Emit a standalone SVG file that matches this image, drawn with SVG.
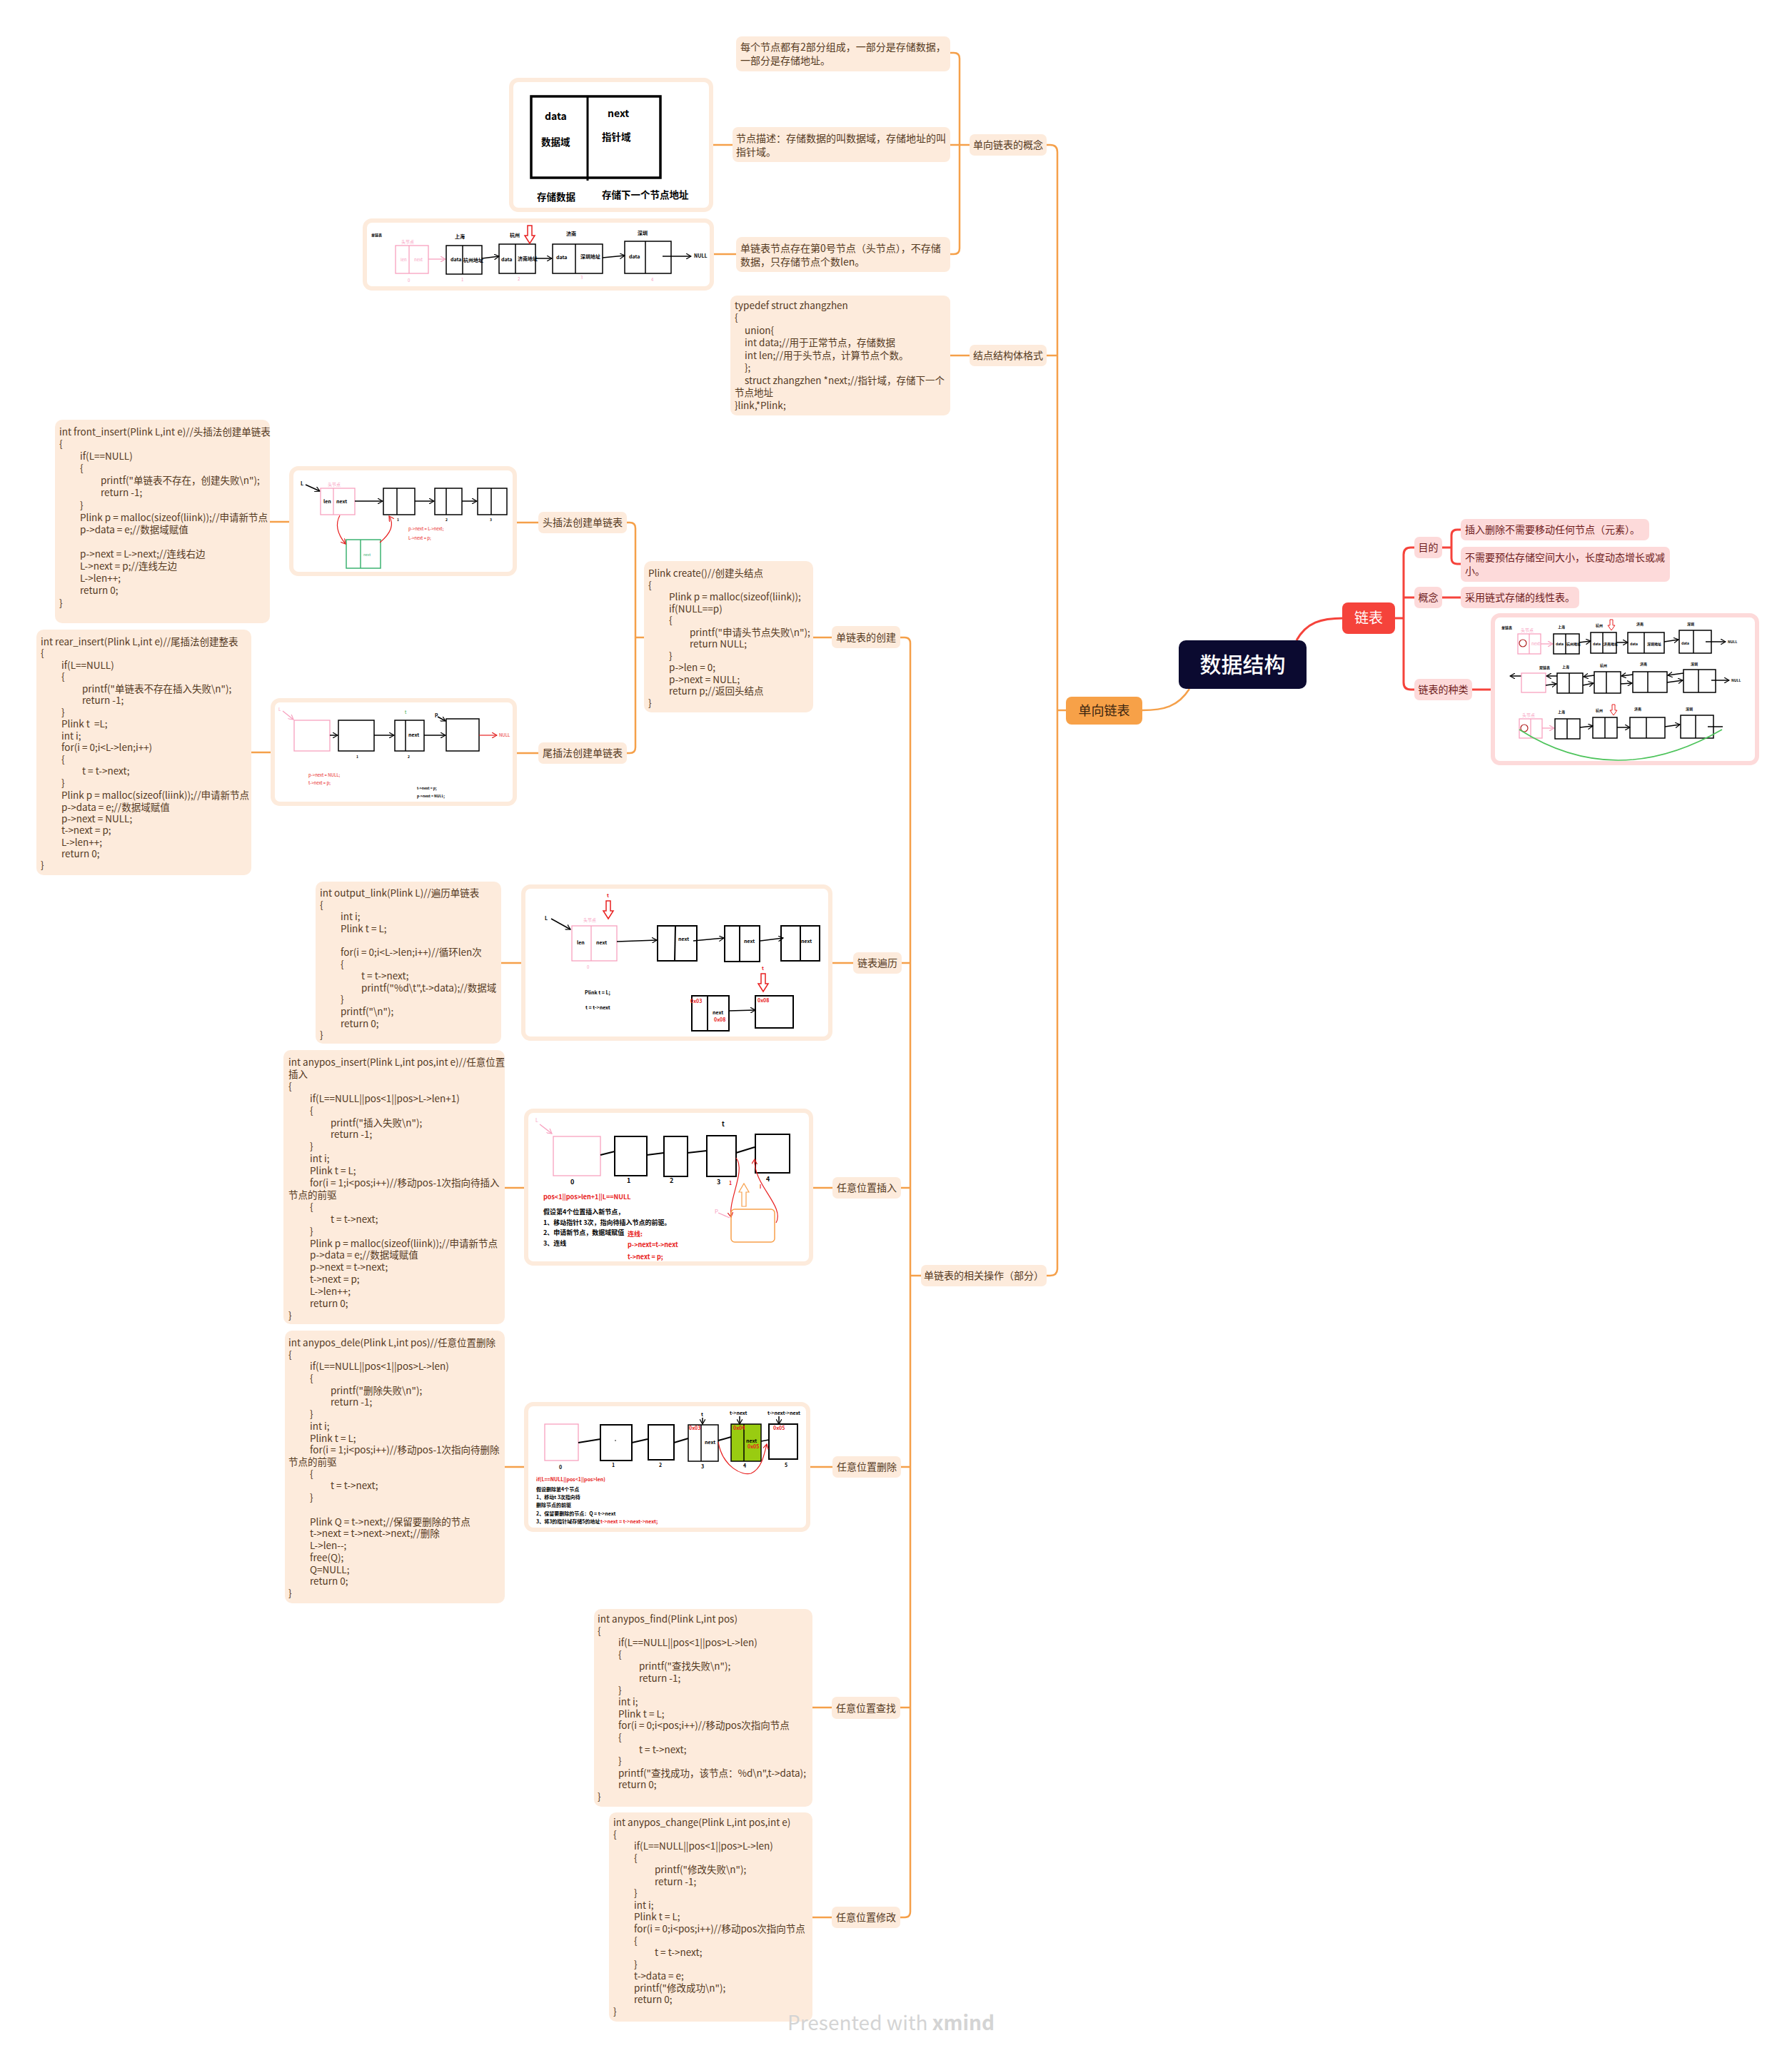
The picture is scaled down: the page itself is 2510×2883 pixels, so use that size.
<svg xmlns="http://www.w3.org/2000/svg" width="2510" height="2883" viewBox="0 0 2510 2883">
<defs>
<marker id="ab" markerWidth="8" markerHeight="8" refX="7" refY="4" orient="auto" markerUnits="userSpaceOnUse"><path d="M0,0 L7,4 L0,8" fill="none" stroke="#000" stroke-width="1.2"/></marker>
<marker id="ap" markerWidth="8" markerHeight="8" refX="7" refY="4" orient="auto" markerUnits="userSpaceOnUse"><path d="M0,0 L7,4 L0,8" fill="none" stroke="#f7a1bf" stroke-width="1.2"/></marker>
<marker id="ar" markerWidth="8" markerHeight="8" refX="7" refY="4" orient="auto" markerUnits="userSpaceOnUse"><path d="M0,0 L7,4 L0,8" fill="none" stroke="#e02020" stroke-width="1.2"/></marker>
<path id="dn" d="M-3,0 h6 v14 h4 l-7,11 l-7,-11 h4 z" fill="none" stroke="#e82020" stroke-width="1.5"/>
<path id="dns" d="M-2,0 h4 v8 h3 l-5,7 l-5,-7 h3 z" fill="none" stroke="#e82020" stroke-width="1"/>
</defs>
<style>
text{font-family:'Noto Sans CJK SC','Noto Sans',sans-serif;white-space:pre}
.t{font-size:14px;fill:#553a1f}
g[id^=code] .t, #n-struct .t{font-size:13.5px}
.tr{font-size:14px;fill:#6e1c1c}
.bo{fill:#FDEBDC}
.br{fill:#FDDADA}
.co{fill:none;stroke:#F5A04A;stroke-width:2.5}
.cr{fill:none;stroke:#F5433B;stroke-width:3}
.fo{fill:#fff;stroke:#FDEBDC;stroke-width:6}
.fr{fill:#fff;stroke:#FDDADA;stroke-width:6}
.k{fill:none;stroke:#000;stroke-width:1.5}
.k2{fill:none;stroke:#000;stroke-width:2}
.kp{fill:none;stroke:#f7a1bf;stroke-width:1.3}
.kr{fill:none;stroke:#e82020;stroke-width:1.2}
.s{font-size:7px;fill:#000;font-weight:bold}
.s5{font-size:5px;fill:#000;font-weight:bold}
.sp{font-size:6px;fill:#f7a1bf}
.sr{font-size:7px;fill:#e82020;font-weight:bold}
.m{font-size:9px;fill:#000;font-weight:bold}
.mr{font-size:9px;fill:#e82020;font-weight:bold}
</style>
<rect width="2510" height="2883" fill="#fff"/>

<!-- connectors -->
<g id="connectors">
<path class="co" d="M1666,965 C1650,990 1630,995 1600,995"/>
<path class="cr" d="M1816,897 C1830,872 1850,866 1882,866"/>
<path class="co" d="M1493,995 H1481"/>
<path class="co" d="M1466,203 H1471 Q1481,203 1481,213 V1777 Q1481,1787 1471,1787 H1466"/>
<path class="co" d="M1466,498 H1481"/>
<path class="co" d="M1331,74 H1336 Q1344,74 1344,82 V348 Q1344,356 1336,356 H1331"/>
<path class="co" d="M1331,203 H1358"/>
<path class="co" d="M1026,203 H999"/>
<path class="co" d="M1031,356 H1000"/>
<path class="co" d="M1358,498 H1331"/>
<path class="co" d="M1290,1787 H1275"/>
<path class="co" d="M1261,893 H1267 Q1275,893 1275,901 V2678 Q1275,2686 1267,2686 H1261"/>
<path class="co" d="M1263,1349 H1275 M1262,1664 H1275 M1262,2055 H1275 M1261,2392 H1275"/>
<path class="co" d="M1165,893 H1139"/>
<path class="co" d="M902,893 H890"/>
<path class="co" d="M878,732 H882 Q890,732 890,740 V1047 Q890,1055 882,1055 H878"/>
<path class="co" d="M754,732 H724 M405,731 H378"/>
<path class="co" d="M754,1055 H724 M379,1054 H352"/>
<path class="co" d="M1195,1349 H1166 M730,1349 H702"/>
<path class="co" d="M1166,1664 H1139 M734,1664 H707"/>
<path class="co" d="M1166,2055 H1135 M734,2055 H707"/>
<path class="co" d="M1165,2392 H1138"/>
<path class="co" d="M1165,2686 H1138"/>
<path class="cr" d="M1954,866 H1966"/>
<path class="cr" d="M1981,767 H1976 Q1966,767 1966,777 V956 Q1966,966 1976,966 H1981"/>
<path class="cr" d="M1966,837 H1981"/>
<path class="cr" d="M2020,767 H2033"/>
<path class="cr" d="M2047,742 H2041 Q2033,742 2033,750 V782 Q2033,790 2041,790 H2047"/>
<path class="cr" d="M2020,837 H2047"/>
<path class="cr" d="M2062,966 H2089"/>
</g>

<!-- root -->
<g id="root">
<rect x="1651" y="897" width="179" height="68" rx="10" fill="#0b0a30"/>
<text x="1740.5" y="942" font-size="30" fill="#fff" text-anchor="middle" font-weight="500">数据结构</text>
</g>

<!-- red branch -->
<g id="n-lianbiao"><rect x="1880" y="844" width="74" height="44" rx="8" fill="#F5433B"/><text x="1917" y="873" font-size="20" fill="#fff" text-anchor="middle">链表</text></g>
<g id="n-mudi"><rect class="br" x="1981" y="752" width="39" height="30" rx="7"/><text class="tr" x="2000.5" y="772" text-anchor="middle">目的</text></g>
<g id="n-gainian"><rect class="br" x="1981" y="822" width="39" height="30" rx="7"/><text class="tr" x="2000.5" y="842" text-anchor="middle">概念</text></g>
<g id="n-zhonglei"><rect class="br" x="1981" y="951" width="81" height="30" rx="7"/><text class="tr" x="2021.5" y="971" text-anchor="middle">链表的种类</text></g>
<g id="n-mudi1"><rect class="br" x="2046" y="727" width="264" height="30" rx="7"/><text class="tr" x="2052" y="747">插入删除不需要移动任何节点（元素）。</text></g>
<g id="n-mudi2"><rect class="br" x="2046" y="766" width="293" height="49" rx="7"/><text class="tr" x="2052" y="786">不需要预估存储空间大小，长度动态增长或减</text><text class="tr" x="2052" y="805">小。</text></g>
<g id="n-gainian1"><rect class="br" x="2046" y="822" width="166" height="30" rx="7"/><text class="tr" x="2052" y="842">采用链式存储的线性表。</text></g>
<g id="img-zhonglei" transform="translate(-3,0)">
<rect class="fr" x="2094" y="862" width="370" height="207" rx="10"/>
<text class="s5" x="2106" y="881">单链表</text>
<rect class="kp" x="2129" y="888" width="32" height="28"/><line class="kp" x1="2145" y1="888" x2="2145" y2="916"/>
<circle cx="2136" cy="901" r="5" fill="none" stroke="#b02020" stroke-width="1.2"/>
<text class="sp" x="2133" y="885" font-size="5">头节点</text><text class="sp" x="2148" y="904" font-size="4">next</text>
<line class="kp" x1="2161" y1="902" x2="2178" y2="902" marker-end="url(#ap)"/>
<rect class="k" x="2179" y="888" width="36" height="28"/><line class="k" x1="2196" y1="888" x2="2196" y2="916"/>
<line class="k" x1="2215" y1="900" x2="2231" y2="898" marker-end="url(#ab)"/>
<rect class="k" x="2231" y="886" width="36" height="29"/><line class="k" x1="2248" y1="886" x2="2248" y2="915"/>
<line class="k" x1="2267" y1="900" x2="2283" y2="900" marker-end="url(#ab)"/>
<rect class="k" x="2283" y="886" width="51" height="29"/><line class="k" x1="2306" y1="886" x2="2306" y2="915"/>
<line class="k" x1="2334" y1="899" x2="2354" y2="896" marker-end="url(#ab)"/>
<rect class="k" x="2355" y="883" width="45" height="32"/><line class="k" x1="2375" y1="883" x2="2375" y2="915"/>
<line class="k" x1="2392" y1="899" x2="2420" y2="899" marker-end="url(#ab)"/>
<text class="s5" x="2423" y="901">NULL</text>
<text class="s5" x="2185" y="880">上海</text><text class="s5" x="2238" y="878">杭州</text><text class="s5" x="2295" y="876">济南</text><text class="s5" x="2366" y="876">深圳</text>
<use href="#dns" x="2260" y="868"/>
<text class="s5" x="2182" y="904" font-size="4">data</text><text class="s5" x="2234" y="904" font-size="4">data</text><text class="s5" x="2286" y="904" font-size="4">data</text><text class="s5" x="2358" y="903" font-size="4">data</text>
<text class="s5" x="2197" y="904" font-size="4">杭州地址</text><text class="s5" x="2249" y="904" font-size="4">济南地址</text><text class="s5" x="2310" y="904" font-size="4">深圳地址</text>
<text class="s5" x="2159" y="937">双链表</text>
<line class="k" x1="2134" y1="947" x2="2118" y2="947" marker-end="url(#ab)"/>
<rect x="2134" y="943" width="34" height="27" fill="none" stroke="#f7a1bf" stroke-width="1.3"/>
<rect class="k" x="2184" y="943" width="36" height="28"/><line class="k" x1="2201" y1="943" x2="2201" y2="971"/>
<rect class="k" x="2236" y="941" width="37" height="30"/><line class="k" x1="2253" y1="941" x2="2253" y2="971"/>
<rect class="k" x="2290" y="941" width="48" height="29"/><line class="k" x1="2311" y1="941" x2="2311" y2="970"/>
<rect class="k" x="2361" y="938" width="45" height="32"/><line class="k" x1="2382" y1="938" x2="2382" y2="970"/>
<line class="k" x1="2184" y1="947" x2="2169" y2="947" marker-end="url(#ab)"/><line class="k" x1="2168" y1="960" x2="2183" y2="958" marker-end="url(#ab)"/>
<line class="k" x1="2236" y1="946" x2="2221" y2="948" marker-end="url(#ab)"/><line class="k" x1="2220" y1="960" x2="2235" y2="957" marker-end="url(#ab)"/>
<line class="k" x1="2290" y1="945" x2="2274" y2="947" marker-end="url(#ab)"/><line class="k" x1="2273" y1="958" x2="2289" y2="957" marker-end="url(#ab)"/>
<line class="k" x1="2361" y1="943" x2="2339" y2="946" marker-end="url(#ab)"/><line class="k" x1="2338" y1="956" x2="2360" y2="953" marker-end="url(#ab)"/>
<line class="k" x1="2400" y1="953" x2="2425" y2="953" marker-end="url(#ab)"/><text class="s5" x="2428" y="955">NULL</text>
<text class="s5" x="2191" y="936">上海</text><text class="s5" x="2244" y="934">杭州</text><text class="s5" x="2300" y="932">济南</text><text class="s5" x="2371" y="932">深圳</text>
<rect class="kp" x="2131" y="1007" width="32" height="27"/><line class="kp" x1="2147" y1="1007" x2="2147" y2="1034"/>
<circle cx="2138" cy="1020" r="5" fill="none" stroke="#b02020" stroke-width="1.2"/>
<text class="sp" x="2135" y="1004" font-size="5">头节点</text>
<line class="kp" x1="2163" y1="1020" x2="2180" y2="1020" marker-end="url(#ap)"/>
<rect class="k" x="2181" y="1007" width="35" height="28"/><line class="k" x1="2198" y1="1007" x2="2198" y2="1035"/>
<line class="k" x1="2216" y1="1019" x2="2234" y2="1017" marker-end="url(#ab)"/>
<rect class="k" x="2234" y="1005" width="34" height="29"/><line class="k" x1="2251" y1="1005" x2="2251" y2="1034"/>
<line class="k" x1="2268" y1="1019" x2="2286" y2="1019" marker-end="url(#ab)"/>
<rect class="k" x="2286" y="1005" width="49" height="29"/><line class="k" x1="2309" y1="1005" x2="2309" y2="1034"/>
<line class="k" x1="2335" y1="1018" x2="2356" y2="1015" marker-end="url(#ab)"/>
<rect class="k" x="2357" y="1002" width="46" height="32"/><line class="k" x1="2378" y1="1002" x2="2378" y2="1034"/>
<line class="k" x1="2395" y1="1018" x2="2416" y2="1018"/>
<use href="#dns" x="2263" y="987"/>
<path d="M2415,1022 Q2266,1108 2131,1022" fill="none" stroke="#4cc35a" stroke-width="1.5"/>
<text class="s5" x="2185" y="999">上海</text><text class="s5" x="2238" y="997">杭州</text><text class="s5" x="2292" y="995">济南</text><text class="s5" x="2364" y="995">深圳</text>
</g>

<!-- orange main -->
<g id="n-danxiang"><rect x="1493" y="976" width="107" height="39" rx="8" fill="#F7A148"/><text x="1546.5" y="1002" font-size="18" fill="#3b2510" text-anchor="middle">单向链表</text></g>
<g id="n-gainian-dx"><rect class="bo" x="1358" y="188" width="108" height="30" rx="7"/><text class="t" x="1412" y="208" text-anchor="middle">单向链表的概念</text></g>
<g id="n-jiegou"><rect class="bo" x="1358" y="483" width="108" height="30" rx="7"/><text class="t" x="1412" y="503" text-anchor="middle">结点结构体格式</text></g>
<g id="n-caozuo"><rect class="bo" x="1290" y="1772" width="176" height="30" rx="7"/><text class="t" x="1378" y="1792" text-anchor="middle">单链表的相关操作（部分）</text></g>

<g id="n-gn1"><rect class="bo" x="1031" y="51" width="300" height="49" rx="8"/><text class="t" x="1037" y="71">每个节点都有2部分组成，一部分是存储数据，</text><text class="t" x="1037" y="90">一部分是存储地址。</text></g>
<g id="n-gn2"><rect class="bo" x="1026" y="178" width="305" height="49" rx="8"/><text class="t" x="1031" y="199">节点描述：存储数据的叫数据域，存储地址的叫</text><text class="t" x="1031" y="218">指针域。</text></g>
<g id="n-gn3"><rect class="bo" x="1031" y="332" width="300" height="49" rx="8"/><text class="t" x="1037" y="353">单链表节点存在第0号节点（头节点），不存储</text><text class="t" x="1037" y="372">数据，只存储节点个数len。</text></g>

<g id="img-node">
<rect class="fo" x="716" y="112" width="280" height="182" rx="10"/>
<rect x="744" y="135" width="181" height="114" fill="none" stroke="#000" stroke-width="3.5"/>
<line x1="823" y1="135" x2="823" y2="253" stroke="#000" stroke-width="3"/>
<text x="763" y="168" font-size="14" font-weight="bold" fill="#000">data</text>
<text x="758" y="204" font-size="13.5" font-weight="bold" fill="#000">数据域</text>
<text x="851" y="164" font-size="14" font-weight="bold" fill="#000">next</text>
<text x="843" y="197" font-size="13.5" font-weight="bold" fill="#000">指针域</text>
<text x="752" y="281" font-size="13.5" font-weight="bold" fill="#000">存储数据</text>
<text x="843" y="278" font-size="13.5" font-weight="bold" fill="#000">存储下一个节点地址</text>
</g>

<g id="img-list">
<rect class="fo" x="511" y="309" width="486" height="95" rx="10"/>
<text class="s5" x="520" y="331">单链表</text>
<text class="sp" x="562" y="341">头节点</text>
<rect class="kp" x="554" y="344" width="46" height="39"/><line class="kp" x1="573" y1="344" x2="573" y2="383"/>
<text class="sp" x="561" y="366">len</text><text class="sp" x="580" y="366">next</text>
<text class="sp" x="571" y="395">0</text>
<line class="kp" x1="600" y1="363" x2="624" y2="363" marker-end="url(#ap)"/>
<rect class="k" x="625" y="344" width="50" height="40"/><line class="k" x1="648" y1="344" x2="648" y2="384"/>
<text class="s" x="631" y="366" font-size="6">data</text><text class="s" x="649" y="367" font-size="6">杭州地址</text>
<text class="s" x="637" y="334" font-size="6">上海</text><text class="sp" x="646" y="394" font-size="5">1</text>
<line class="k" x1="675" y1="362" x2="699" y2="359" marker-end="url(#ab)"/>
<rect class="k" x="699" y="342" width="51" height="41"/><line class="k" x1="722" y1="342" x2="722" y2="383"/>
<text class="s" x="702" y="366" font-size="6">data</text><text class="s" x="725" y="365" font-size="6">济南地址</text>
<text class="s" x="714" y="332" font-size="6">杭州</text><text class="sp" x="725" y="393" font-size="5">2</text>
<use href="#dn" x="742" y="316"/>
<line class="k" x1="750" y1="362" x2="773" y2="362" marker-end="url(#ab)"/>
<rect class="k" x="774" y="342" width="70" height="41"/><line class="k" x1="806" y1="342" x2="806" y2="383"/>
<text class="s" x="779" y="363" font-size="6">data</text><text class="s" x="813" y="362" font-size="6">深圳地址</text>
<text class="s" x="793" y="330" font-size="6">济南</text><text class="sp" x="813" y="391" font-size="5">3</text>
<line class="k" x1="844" y1="361" x2="875" y2="358" marker-end="url(#ab)"/>
<rect class="k" x="875" y="338" width="65" height="45"/><line class="k" x1="904" y1="338" x2="904" y2="383"/>
<text class="s" x="881" y="362" font-size="6">data</text>
<text class="s" x="893" y="329" font-size="6">深圳</text><text class="sp" x="912" y="394" font-size="5">4</text>
<line class="k" x1="928" y1="359" x2="968" y2="359" marker-end="url(#ab)"/>
<text class="s" x="972" y="361" font-size="6">NULL</text>
</g>

<g id="n-struct">
<rect class="bo" x="1023" y="414" width="308" height="168" rx="9"/>
<text class="t" x="1029" y="433">typedef struct zhangzhen</text>
<text class="t" x="1029" y="450">{</text>
<text class="t" x="1043" y="468">union{</text>
<text class="t" x="1043" y="485">int data;//用于正常节点，存储数据</text>
<text class="t" x="1043" y="503">int len;//用于头节点，计算节点个数。</text>
<text class="t" x="1043" y="520">};</text>
<text class="t" x="1043" y="538">struct zhangzhen *next;//指针域，存储下一个</text>
<text class="t" x="1029" y="555">节点地址</text>
<text class="t" x="1029" y="573">}link,*Plink;</text>
</g>

<!-- level 3 ops -->
<g id="n-chuangjian"><rect class="bo" x="1165" y="877" width="96" height="31" rx="7"/><text class="t" x="1213" y="898" text-anchor="middle">单链表的创建</text></g>
<g id="n-bianli"><rect class="bo" x="1195" y="1334" width="68" height="30" rx="7"/><text class="t" x="1229" y="1354" text-anchor="middle">链表遍历</text></g>
<g id="n-charu"><rect class="bo" x="1166" y="1649" width="96" height="30" rx="7"/><text class="t" x="1214" y="1669" text-anchor="middle">任意位置插入</text></g>
<g id="n-shanchu"><rect class="bo" x="1166" y="2040" width="96" height="30" rx="7"/><text class="t" x="1214" y="2060" text-anchor="middle">任意位置删除</text></g>
<g id="n-chazhao"><rect class="bo" x="1165" y="2377" width="96" height="31" rx="7"/><text class="t" x="1213" y="2398" text-anchor="middle">任意位置查找</text></g>
<g id="n-xiugai"><rect class="bo" x="1165" y="2671" width="96" height="30" rx="7"/><text class="t" x="1213" y="2691" text-anchor="middle">任意位置修改</text></g>

<g id="code-create">
<rect class="bo" x="902" y="786" width="237" height="212" rx="10"/>
<text class="t" x="908" y="808">Plink create()//创建头结点</text>
<text class="t" x="908" y="825">{</text>
<text class="t" x="937" y="841">Plink p = malloc(sizeof(liink));</text>
<text class="t" x="937" y="858">if(NULL==p)</text>
<text class="t" x="937" y="874">{</text>
<text class="t" x="966" y="891">printf("申请头节点失败\n");</text>
<text class="t" x="966" y="907">return NULL;</text>
<text class="t" x="937" y="924">}</text>
<text class="t" x="937" y="940">p-&gt;len = 0;</text>
<text class="t" x="937" y="957">p-&gt;next = NULL;</text>
<text class="t" x="937" y="973">return p;//返回头结点</text>
<text class="t" x="908" y="990">}</text>
</g>

<g id="n-touchafa"><rect class="bo" x="754" y="717" width="124" height="30" rx="7"/><text class="t" x="816" y="737" text-anchor="middle">头插法创建单链表</text></g>
<g id="n-weichafa"><rect class="bo" x="754" y="1040" width="124" height="30" rx="7"/><text class="t" x="816" y="1060" text-anchor="middle">尾插法创建单链表</text></g>

<g id="img-front">
<rect class="fo" x="408" y="656" width="313" height="148" rx="10"/>
<text class="s" x="421" y="680">L</text>
<line class="k" x1="428" y1="679" x2="448" y2="688" marker-end="url(#ab)"/>
<text class="sp" x="459" y="681">头节点</text>
<rect class="kp" x="449" y="684" width="48" height="37"/><line class="kp" x1="467" y1="684" x2="467" y2="721"/>
<text class="s" x="453" y="705" font-size="6">len</text><text class="s" x="471" y="705" font-size="6">next</text>
<line class="k" x1="497" y1="702" x2="536" y2="702" marker-end="url(#ab)"/>
<rect class="k" x="537" y="684" width="44" height="37"/><line class="k" x1="556" y1="684" x2="556" y2="721"/>
<line class="k" x1="581" y1="702" x2="608" y2="702" marker-end="url(#ab)"/>
<rect class="k" x="609" y="684" width="38" height="37"/><line class="k" x1="625" y1="684" x2="625" y2="721"/>
<line class="k" x1="647" y1="702" x2="668" y2="702" marker-end="url(#ab)"/>
<rect class="k" x="669" y="684" width="41" height="37"/><line class="k" x1="688" y1="684" x2="688" y2="721"/>
<text class="s5" x="556" y="730">1</text><text class="s5" x="624" y="730">2</text><text class="s5" x="686" y="730">3</text>
<rect x="485" y="756" width="48" height="40" fill="none" stroke="#3cb371" stroke-width="1.5"/><line x1="505" y1="756" x2="505" y2="796" stroke="#3cb371" stroke-width="1.5"/>
<text x="509" y="779" font-size="5" fill="#3cb371">next</text>
<path class="kr" d="M476,722 Q466,740 484,762" marker-end="url(#ar)"/>
<path class="kr" d="M532,760 Q556,740 545,723" marker-end="url(#ar)"/>
<text x="572" y="743" font-size="6" fill="#e82020">p-&gt;next = L-&gt;next;</text>
<text x="572" y="756" font-size="6" fill="#e82020">L-&gt;next = p;</text>
</g>

<g id="code-front">
<rect class="bo" x="77" y="588" width="301" height="285" rx="10"/>
<text class="t" x="83" y="610">int front_insert(Plink L,int e)//头插法创建单链表</text>
<text class="t" x="83" y="627">{</text>
<text class="t" x="112" y="644">if(L==NULL)</text>
<text class="t" x="112" y="661">{</text>
<text class="t" x="141" y="678">printf("单链表不存在，创建失败\n");</text>
<text class="t" x="141" y="695">return -1;</text>
<text class="t" x="112" y="713">}</text>
<text class="t" x="112" y="730">Plink p = malloc(sizeof(liink));//申请新节点</text>
<text class="t" x="112" y="747">p-&gt;data = e;//数据域赋值</text>
<text class="t" x="112" y="781">p-&gt;next = L-&gt;next;//连线右边</text>
<text class="t" x="112" y="798">L-&gt;next = p;//连线左边</text>
<text class="t" x="112" y="815">L-&gt;len++;</text>
<text class="t" x="112" y="832">return 0;</text>
<text class="t" x="83" y="850">}</text>
</g>

<g id="img-rear">
<rect class="fo" x="382" y="981" width="339" height="145" rx="10"/>
<text class="sp" x="390" y="996">L</text>
<line class="kp" x1="396" y1="996" x2="411" y2="1008" marker-end="url(#ap)"/>
<rect class="kp" x="412" y="1009" width="50" height="43"/>
<line class="k" x1="462" y1="1030" x2="473" y2="1030" marker-end="url(#ab)"/>
<rect class="k" x="474" y="1009" width="50" height="43"/>
<line class="k" x1="524" y1="1030" x2="552" y2="1030" marker-end="url(#ab)"/>
<rect class="k" x="553" y="1009" width="41" height="43"/><line class="k" x1="568" y1="1009" x2="568" y2="1052"/>
<text class="s" x="572" y="1032" font-size="5">next</text>
<text x="567" y="1000" font-size="6" fill="#2ea043">t</text>
<line class="k" x1="594" y1="1030" x2="624" y2="1030" marker-end="url(#ab)"/>
<text class="s" x="609" y="1003" font-size="6">p</text>
<line class="k" x1="613" y1="1004" x2="624" y2="1010" marker-end="url(#ab)"/>
<rect class="k" x="625" y="1007" width="46" height="45"/>
<line class="kr" x1="671" y1="1030" x2="696" y2="1030" marker-end="url(#ar)"/>
<text x="699" y="1032" font-size="6" fill="#e82020">NULL</text>
<text class="s5" x="499" y="1062">1</text><text class="s5" x="571" y="1062">2</text>
<text x="432" y="1088" font-size="6" fill="#e82020">p-&gt;next = NULL;</text>
<text x="432" y="1099" font-size="6" fill="#e82020">t-&gt;next = p;</text>
<text class="s5" x="584" y="1106" font-size="6">t-&gt;next = p;</text>
<text class="s5" x="584" y="1117" font-size="6">p-&gt;next = NULL;</text>
</g>

<g id="code-rear">
<rect class="bo" x="51" y="882" width="301" height="344" rx="10"/>
<text class="t" x="57" y="904">int rear_insert(Plink L,int e)//尾插法创建整表</text>
<text class="t" x="57" y="920">{</text>
<text class="t" x="86" y="937">if(L==NULL)</text>
<text class="t" x="86" y="953">{</text>
<text class="t" x="115" y="970">printf("单链表不存在插入失败\n");</text>
<text class="t" x="115" y="986">return -1;</text>
<text class="t" x="86" y="1003">}</text>
<text class="t" x="86" y="1019">Plink t  =L;</text>
<text class="t" x="86" y="1036">int i;</text>
<text class="t" x="86" y="1052">for(i = 0;i&lt;L-&gt;len;i++)</text>
<text class="t" x="86" y="1069">{</text>
<text class="t" x="115" y="1085">t = t-&gt;next;</text>
<text class="t" x="86" y="1102">}</text>
<text class="t" x="86" y="1119">Plink p = malloc(sizeof(liink));//申请新节点</text>
<text class="t" x="86" y="1136">p-&gt;data = e;//数据域赋值</text>
<text class="t" x="86" y="1152">p-&gt;next = NULL;</text>
<text class="t" x="86" y="1168">t-&gt;next = p;</text>
<text class="t" x="86" y="1185">L-&gt;len++;</text>
<text class="t" x="86" y="1201">return 0;</text>
<text class="t" x="57" y="1217">}</text>
</g>

<g id="img-bianli">
<rect class="fo" x="733" y="1242" width="430" height="213" rx="10"/>
<text class="s" x="763" y="1289" font-size="8">L</text>
<line x1="772" y1="1287" x2="799" y2="1302" stroke="#000" stroke-width="1.5" marker-end="url(#ab)"/>
<text class="sp" x="817" y="1291">头节点</text>
<rect class="kp" x="801" y="1297" width="63" height="49"/><line class="kp" x1="828" y1="1297" x2="828" y2="1346"/>
<text class="s" x="808" y="1323" font-size="7">len</text><text class="s" x="835" y="1323" font-size="7">next</text>
<text class="sp" x="822" y="1357">0</text>
<text class="sr" x="850" y="1257">t</text>
<use href="#dn" x="852" y="1262"/>
<line x1="864" y1="1319" x2="920" y2="1317" stroke="#000" stroke-width="1.5" marker-end="url(#ab)"/>
<rect class="k2" x="921" y="1297" width="55" height="49"/><line class="k2" x1="946" y1="1297" x2="945" y2="1346"/>
<text class="s" x="950" y="1318" font-size="7">next</text>
<line x1="971" y1="1318" x2="1014" y2="1314" stroke="#000" stroke-width="1.5" marker-end="url(#ab)"/>
<rect class="k2" x="1015" y="1297" width="49" height="50"/><line class="k2" x1="1036" y1="1297" x2="1036" y2="1347"/>
<text class="s" x="1042" y="1321" font-size="7">next</text>
<line x1="1065" y1="1318" x2="1097" y2="1314" stroke="#000" stroke-width="1.5" marker-end="url(#ab)"/>
<rect class="k2" x="1094" y="1297" width="54" height="49"/><line class="k2" x1="1121" y1="1297" x2="1121" y2="1346"/>
<text class="s" x="1122" y="1321" font-size="7">next</text>
<text class="sr" x="1067" y="1359">t</text>
<use href="#dn" x="1069" y="1364"/>
<text class="s" x="819" y="1393" font-size="6">Plink t = L;</text>
<text class="s" x="820" y="1414" font-size="8">t = t-&gt;next</text>
<rect class="k2" x="969" y="1395" width="52" height="49"/><line class="k2" x1="991" y1="1395" x2="991" y2="1444"/>
<text class="sr" x="967" y="1405" font-size="8">0x03</text>
<text class="s" x="998" y="1421" font-size="8">next</text>
<text class="sr" x="1000" y="1431" font-size="8">0x08</text>
<line x1="1021" y1="1416" x2="1058" y2="1415" stroke="#000" stroke-width="1.5" marker-end="url(#ab)"/>
<rect class="k2" x="1058" y="1395" width="53" height="45"/>
<text class="sr" x="1061" y="1404" font-size="8">0x08</text>
</g>

<g id="code-bianli">
<rect class="bo" x="442" y="1235" width="260" height="227" rx="10"/>
<text class="t" x="448" y="1256">int output_link(Plink L)//遍历单链表</text>
<text class="t" x="448" y="1273">{</text>
<text class="t" x="477" y="1289">int i;</text>
<text class="t" x="477" y="1306">Plink t = L;</text>
<text class="t" x="477" y="1339">for(i = 0;i&lt;L-&gt;len;i++)//循环len次</text>
<text class="t" x="477" y="1356">{</text>
<text class="t" x="506" y="1372">t = t-&gt;next;</text>
<text class="t" x="506" y="1389">printf("%d\t",t-&gt;data);//数据域</text>
<text class="t" x="477" y="1405">}</text>
<text class="t" x="477" y="1422">printf("\n");</text>
<text class="t" x="477" y="1439">return 0;</text>
<text class="t" x="448" y="1455">}</text>
</g>

<g id="img-charu">
<rect class="fo" x="737" y="1556" width="399" height="214" rx="10"/>
<text x="750" y="1572" font-size="7" fill="#f7a1bf">L</text>
<line class="kp" x1="756" y1="1575" x2="773" y2="1588" marker-end="url(#ap)"/>
<rect class="kp" x="775" y="1592" width="66" height="55"/>
<line class="k2" x1="841" y1="1618" x2="861" y2="1613"/>
<rect class="k2" x="861" y="1592" width="45" height="55"/>
<line class="k2" x1="906" y1="1618" x2="930" y2="1615"/>
<rect class="k2" x="930" y="1592" width="33" height="56"/>
<line class="k2" x1="963" y1="1615" x2="990" y2="1612"/>
<rect class="k2" x="990" y="1591" width="41" height="57"/>
<line class="k2" x1="1031" y1="1615" x2="1057" y2="1607"/>
<rect class="k2" x="1058" y="1589" width="48" height="54"/>
<text class="m" x="799" y="1659">0</text><text class="m" x="878" y="1657">1</text><text class="m" x="938" y="1657">2</text><text class="m" x="1004" y="1659">3</text><text class="m" x="1073" y="1655">4</text>
<text class="m" x="1011" y="1578">t</text>
<path class="kr" d="M1031,1622 C1045,1640 1020,1680 1024,1705" marker-end="url(#ar)"/>
<path class="kr" d="M1087,1713 C1100,1690 1055,1660 1057,1624" marker-end="url(#ar)"/>
<text class="sr" x="1021" y="1660" font-size="8">1</text><text class="sr" x="1064" y="1665" font-size="8">I</text>
<path d="M1039,1690 v-20 h-4 l7,-12 l7,12 h-4 v20 z" fill="none" stroke="#f7a04b" stroke-width="1.2"/>
<rect x="1024" y="1694" width="61" height="46" rx="5" fill="none" stroke="#f7a04b" stroke-width="1.5"/>
<text x="1001" y="1700" font-size="8" fill="#f7a1bf">P</text>
<line class="kp" x1="1006" y1="1699" x2="1022" y2="1706"/>
<text class="mr" x="761" y="1680" font-size="8">pos&lt;1||pos&gt;len+1||L==NULL</text>
<text class="m" x="761" y="1701" font-size="7">假设第4个位置插入新节点，</text>
<text class="m" x="761" y="1716" font-size="7">1、移动指针t 3次，指向待插入节点的前驱。</text>
<text class="m" x="761" y="1730" font-size="7">2、申请新节点，数据域赋值</text>
<text class="m" x="761" y="1745" font-size="7">3、连线</text>
<text class="mr" x="879" y="1732" font-size="8">连线:</text>
<text class="mr" x="879" y="1747" font-size="7">p-&gt;next=t-&gt;next</text>
<text class="mr" x="879" y="1764" font-size="7">t-&gt;next = p;</text>
</g>

<g id="code-charu">
<rect class="bo" x="397" y="1471" width="310" height="384" rx="10"/>
<text class="t" x="404" y="1493">int anypos_insert(Plink L,int pos,int e)//任意位置</text>
<text class="t" x="404" y="1510">插入</text>
<text class="t" x="404" y="1527">{</text>
<text class="t" x="434" y="1544">if(L==NULL||pos&lt;1||pos&gt;L-&gt;len+1)</text>
<text class="t" x="434" y="1561">{</text>
<text class="t" x="463" y="1578">printf("插入失败\n");</text>
<text class="t" x="463" y="1594">return -1;</text>
<text class="t" x="434" y="1611">}</text>
<text class="t" x="434" y="1628">int i;</text>
<text class="t" x="434" y="1645">Plink t = L;</text>
<text class="t" x="434" y="1662">for(i = 1;i&lt;pos;i++)//移动pos-1次指向待插入</text>
<text class="t" x="404" y="1679">节点的前驱</text>
<text class="t" x="434" y="1696">{</text>
<text class="t" x="463" y="1713">t = t-&gt;next;</text>
<text class="t" x="434" y="1730">}</text>
<text class="t" x="434" y="1747">Plink p = malloc(sizeof(liink));//申请新节点</text>
<text class="t" x="434" y="1763">p-&gt;data = e;//数据域赋值</text>
<text class="t" x="434" y="1780">p-&gt;next = t-&gt;next;</text>
<text class="t" x="434" y="1797">t-&gt;next = p;</text>
<text class="t" x="434" y="1814">L-&gt;len++;</text>
<text class="t" x="434" y="1831">return 0;</text>
<text class="t" x="404" y="1848">}</text>
</g>

<g id="img-shanchu">
<rect class="fo" x="737" y="1967" width="395" height="176" rx="10"/>
<rect class="kp" x="763" y="1995" width="47" height="51"/>
<line class="k2" x1="810" y1="2021" x2="841" y2="2016"/>
<rect class="k2" x="841" y="1996" width="44" height="50"/>
<circle cx="862" cy="2018" r="0.8" fill="#000"/>
<line class="k2" x1="885" y1="2021" x2="907" y2="2016"/>
<rect class="k2" x="908" y="1996" width="36" height="49"/>
<line class="k2" x1="944" y1="2021" x2="964" y2="2015"/>
<rect class="k" x="964" y="1996" width="42" height="51"/><line class="k" x1="982" y1="1996" x2="982" y2="2047"/>
<text class="sr" x="965" y="2003" font-size="6">0x03</text>
<text class="s" x="987" y="2023" font-size="6">next</text>
<line class="k2" x1="1006" y1="2018" x2="1024" y2="2013"/>
<rect x="1024" y="1995" width="42" height="52" fill="#99cc11" stroke="#000" stroke-width="1.5"/><line class="k" x1="1042" y1="1995" x2="1042" y2="2047"/>
<text class="sr" x="1027" y="2003" font-size="6">0x04</text>
<text class="s" x="1045" y="2021" font-size="6">next</text>
<text class="sr" x="1047" y="2029" font-size="6">0x05</text>
<line class="k" x1="1066" y1="2019" x2="1077" y2="2017"/>
<rect class="k2" x="1077" y="1995" width="40" height="49"/>
<text class="sr" x="1083" y="2003" font-size="6">0x05</text>
<path class="kr" d="M1006,2020 C1012,2055 1040,2068 1052,2064 C1066,2058 1070,2040 1074,2023" marker-end="url(#ar)"/>
<text class="s" x="783" y="2058" font-size="6">0</text><text class="s" x="857" y="2055" font-size="6">1</text><text class="s" x="923" y="2055" font-size="6">2</text><text class="s" x="982" y="2057" font-size="6">3</text><text class="s" x="1041" y="2056" font-size="6">4</text><text class="s" x="1099" y="2055" font-size="6">5</text>
<text class="s" x="982" y="1984" font-size="6">t</text><line class="k" x1="984" y1="1986" x2="984" y2="1995" marker-end="url(#ab)"/>
<text class="s" x="1022" y="1982" font-size="5">t-&gt;next</text><line class="k" x1="1036" y1="1984" x2="1036" y2="1995" marker-end="url(#ab)"/>
<text class="s" x="1075" y="1982" font-size="5">t-&gt;next-&gt;next</text><line class="k" x1="1091" y1="1984" x2="1091" y2="1995" marker-end="url(#ab)"/>
<text class="sr" x="751" y="2075" font-size="6">if(L==NULL||pos&lt;1||pos&gt;len)</text>
<text class="s" x="751" y="2089" font-size="5">假设删除第4个节点</text>
<text class="s" x="751" y="2100" font-size="5">1、移动t 3次指向待</text>
<text class="s" x="751" y="2111" font-size="5">删除节点的前驱</text>
<text class="s" x="751" y="2123" font-size="5">2、保留要删除的节点：Q = t-&gt;next</text>
<text class="s" x="751" y="2134" font-size="5">3、将3的指针域存储5的地址</text>
<text class="sr" x="841" y="2134" font-size="5">t-&gt;next = t-&gt;next-&gt;next;</text>
</g>

<g id="code-shanchu">
<rect class="bo" x="399" y="1864" width="308" height="382" rx="10"/>
<text class="t" x="404" y="1886">int anypos_dele(Plink L,int pos)//任意位置删除</text>
<text class="t" x="404" y="1903">{</text>
<text class="t" x="434" y="1919">if(L==NULL||pos&lt;1||pos&gt;L-&gt;len)</text>
<text class="t" x="434" y="1936">{</text>
<text class="t" x="463" y="1953">printf("删除失败\n");</text>
<text class="t" x="463" y="1969">return -1;</text>
<text class="t" x="434" y="1986">}</text>
<text class="t" x="434" y="2003">int i;</text>
<text class="t" x="434" y="2020">Plink t = L;</text>
<text class="t" x="434" y="2036">for(i = 1;i&lt;pos;i++)//移动pos-1次指向待删除</text>
<text class="t" x="404" y="2053">节点的前驱</text>
<text class="t" x="434" y="2070">{</text>
<text class="t" x="463" y="2086">t = t-&gt;next;</text>
<text class="t" x="434" y="2103">}</text>
<text class="t" x="434" y="2137">Plink Q = t-&gt;next;//保留要删除的节点</text>
<text class="t" x="434" y="2153">t-&gt;next = t-&gt;next-&gt;next;//删除</text>
<text class="t" x="434" y="2170">L-&gt;len--;</text>
<text class="t" x="434" y="2187">free(Q);</text>
<text class="t" x="434" y="2204">Q=NULL;</text>
<text class="t" x="434" y="2220">return 0;</text>
<text class="t" x="404" y="2237">}</text>
</g>

<g id="code-chazhao">
<rect class="bo" x="832" y="2254" width="306" height="277" rx="10"/>
<text class="t" x="837" y="2273">int anypos_find(Plink L,int pos)</text>
<text class="t" x="837" y="2290">{</text>
<text class="t" x="866" y="2306">if(L==NULL||pos&lt;1||pos&gt;L-&gt;len)</text>
<text class="t" x="866" y="2323">{</text>
<text class="t" x="895" y="2339">printf("查找失败\n");</text>
<text class="t" x="895" y="2356">return -1;</text>
<text class="t" x="866" y="2373">}</text>
<text class="t" x="866" y="2389">int i;</text>
<text class="t" x="866" y="2406">Plink t = L;</text>
<text class="t" x="866" y="2422">for(i = 0;i&lt;pos;i++)//移动pos次指向节点</text>
<text class="t" x="866" y="2439">{</text>
<text class="t" x="895" y="2456">t = t-&gt;next;</text>
<text class="t" x="866" y="2472">}</text>
<text class="t" x="866" y="2489">printf("查找成功，该节点：%d\n",t-&gt;data);</text>
<text class="t" x="866" y="2505">return 0;</text>
<text class="t" x="837" y="2522">}</text>
</g>

<g id="code-xiugai">
<rect class="bo" x="853" y="2539" width="285" height="293" rx="10"/>
<text class="t" x="859" y="2558">int anypos_change(Plink L,int pos,int e)</text>
<text class="t" x="859" y="2575">{</text>
<text class="t" x="888" y="2591">if(L==NULL||pos&lt;1||pos&gt;L-&gt;len)</text>
<text class="t" x="888" y="2608">{</text>
<text class="t" x="917" y="2624">printf("修改失败\n");</text>
<text class="t" x="917" y="2641">return -1;</text>
<text class="t" x="888" y="2657">}</text>
<text class="t" x="888" y="2674">int i;</text>
<text class="t" x="888" y="2690">Plink t = L;</text>
<text class="t" x="888" y="2707">for(i = 0;i&lt;pos;i++)//移动pos次指向节点</text>
<text class="t" x="888" y="2724">{</text>
<text class="t" x="917" y="2740">t = t-&gt;next;</text>
<text class="t" x="888" y="2757">}</text>
<text class="t" x="888" y="2773">t-&gt;data = e;</text>
<text class="t" x="888" y="2790">printf("修改成功\n");</text>
<text class="t" x="888" y="2806">return 0;</text>
<text class="t" x="859" y="2823">}</text>
</g>

<text x="1103" y="2844" font-size="28" fill="#d4d4d4">Presented with <tspan font-weight="bold">xmind</tspan></text>
</svg>
